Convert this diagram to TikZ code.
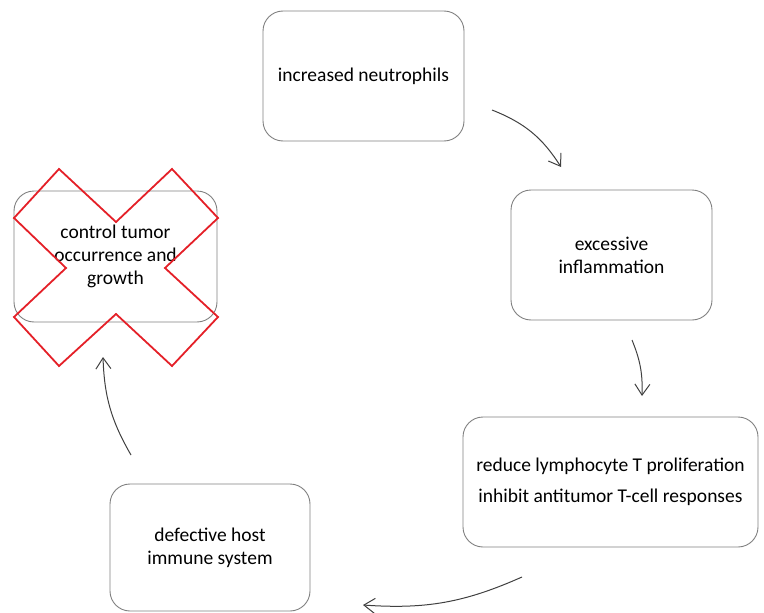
\documentclass[tikz,border=0pt]{standalone}
\usepackage{fontspec}
\setmainfont{Carlito}
\usetikzlibrary{arrows.meta}
\begin{document}
\begin{tikzpicture}[x=1pt,y=-1pt,
  box/.style={draw=black!50, line width=0.9pt, rounded corners=20pt, align=center, inner sep=0pt,
    font=\fontsize{19.5}{23}\selectfont, text=black},
  flow/.style={draw=black!75, line width=1pt, -{Straight Barb[length=11pt,width=15pt]}}]
\useasboundingbox (0,0) rectangle (764,613);
\node[box, minimum width=201pt, minimum height=130pt] (n1) at (363.5,76) {increased neutrophils};
\node[box, minimum width=201pt, minimum height=130pt] (n2) at (611.5,255) {excessive\\inflammation};
\node[box, minimum width=295pt, minimum height=130pt, font=\fontsize{19.5}{31}\selectfont] (n3) at (610.5,482) {reduce lymphocyte T proliferation\\inhibit antitumor T-cell responses};
\node[box, minimum width=200pt, minimum height=127pt] (n4) at (210,547.5) {defective host\\immune system};
\node[box, minimum width=203pt, minimum height=131pt] (n5) at (115.5,256.5) {control tumor\\occurrence and\\growth};
\coordinate (a1s) at (492,110); \coordinate (a1e) at (561,167);
\coordinate (a2s) at (632,340); \coordinate (a2e) at (642,396);
\coordinate (a3s) at (522,577); \coordinate (a3e) at (363,605);
\coordinate (a4s) at (131,455); \coordinate (a4e) at (103,357);
\draw[flow] (a1s) to[bend left=18] (a1e);
\draw[flow] (a2s) to[bend left=12] (a2e);
\draw[flow] (a3s) to[bend left=14] (a3e);
\draw[flow] (a4s) to[bend left=14] (a4e);
\definecolor{xred}{RGB}{228,32,40}
\draw[xred, line width=1.8pt, line join=miter]
  (14,218) -- (59,169) -- (116,222) -- (172,169) -- (218,218) -- (165,268)
  -- (218,317) -- (172,366) -- (116,314) -- (59,366) -- (14,317) -- (66,268) -- cycle;
\end{tikzpicture}
\end{document}
